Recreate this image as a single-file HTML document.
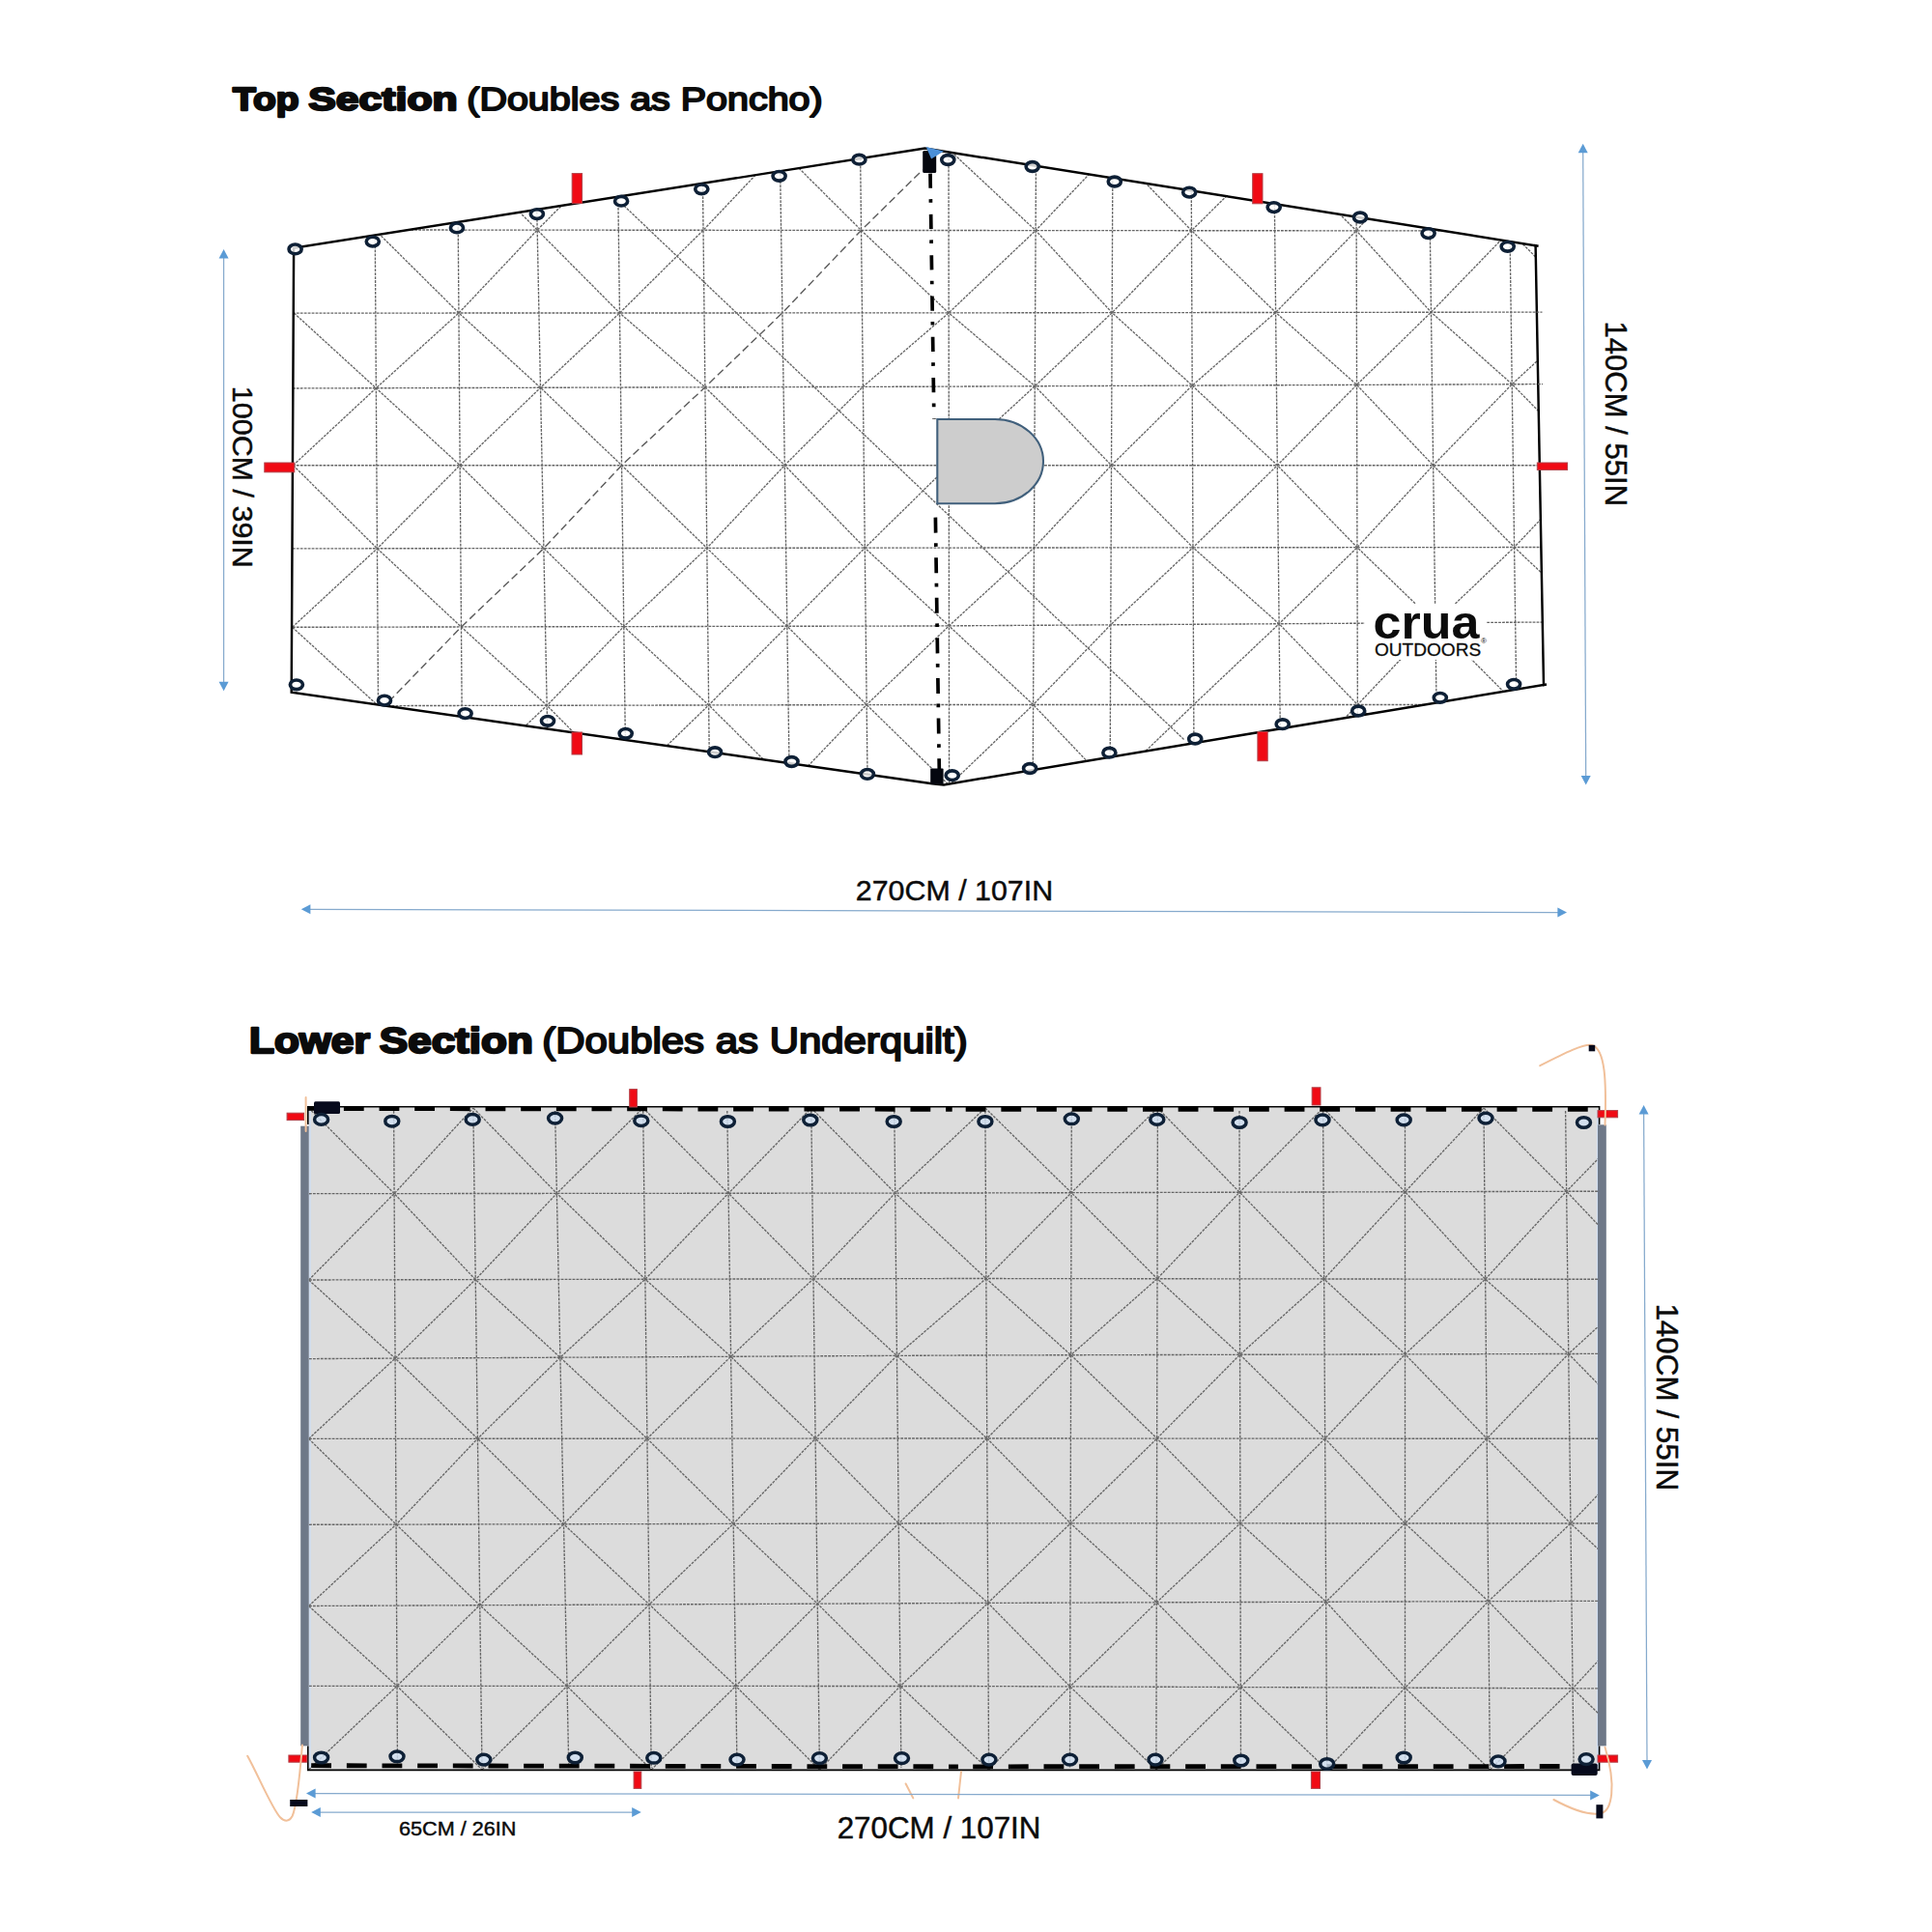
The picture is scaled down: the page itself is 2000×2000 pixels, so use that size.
<!DOCTYPE html>
<html lang="en">
<head>
<meta charset="utf-8">
<title>Top Section / Lower Section dimensions</title>
<style>
html,body{margin:0;padding:0;background:#fff;}
body{width:2000px;height:2000px;overflow:hidden;}
svg{display:block;}
text{font-family:"Liberation Sans",sans-serif;fill:#0b0b0b;}
</style>
</head>
<body>
<svg width="2000" height="2000" viewBox="0 0 2000 2000">
<rect x="0" y="0" width="2000" height="2000" fill="#ffffff"/>

<defs><clipPath id="ctop"><polygon points="304.1,256.7 957.4,153.5 1589.6,254.2 1598,709 977,812.4 965,811.2 301.7,716.8"/></clipPath>
<clipPath id="clow"><rect x="319.6" y="1147" width="1335.6" height="685"/></clipPath></defs>
<g clip-path="url(#ctop)">
<g stroke="#666666" stroke-width="1.35" stroke-dasharray="2.8 1.15" fill="none">
<line x1="387.6" y1="140" x2="392.2" y2="830"/>
<line x1="473.5" y1="140" x2="478.9" y2="830"/>
<line x1="554.2" y1="140" x2="568.2" y2="830"/>
<line x1="639" y1="140" x2="648.2" y2="830"/>
<line x1="726.9" y1="140" x2="734.8" y2="830"/>
<line x1="807.1" y1="140" x2="817.6" y2="830"/>
<line x1="890.4" y1="140" x2="898.3" y2="830"/>
<line x1="982" y1="140" x2="982.6" y2="830"/>
<line x1="1072.6" y1="140" x2="1069.1" y2="830"/>
<line x1="1152" y1="140" x2="1149" y2="830"/>
<line x1="1233" y1="140" x2="1236.2" y2="830"/>
<line x1="1318.6" y1="140" x2="1326.1" y2="830"/>
<line x1="1403.9" y1="140" x2="1405.6" y2="830"/>
<line x1="1479" y1="140" x2="1488.4" y2="830"/>
<line x1="1561.6" y1="140" x2="1571.3" y2="830"/>
<polyline points="295,237.9 960,238.5 1605,239"/>
<polyline points="295,324.1 960,323.9 1605,323.1"/>
<polyline points="295,402 960,400.2 1605,397.6"/>
<polyline points="295,481.7 960,481.7 1605,481.7"/>
<polyline points="295,567.9 960,567.1 1605,566.5"/>
<polyline points="295,649.3 960,648 1605,644"/>
<polyline points="295,730.8 960,729.5 1605,729.5"/>
<polyline points="305.4,154.5 388.3,238 475,324 559.5,401.3 643.6,481.7 731.8,567.4 814.8,648.3 897.1,729.6 982.6,813"/>
<polyline points="473.6,154.5 556.2,238.1 641.5,324 729.9,400.8 812.3,481.7 895.3,567.2 982.4,647.9 1069.6,729.5 1149.1,813"/>
<line x1="646" y1="213" x2="1226.4" y2="766.3"/>
<polyline points="807.4,154.5 891.5,238.4 982.1,323.9 1071.3,399.7 1150.5,481.7 1235,566.8 1324.1,645.8 1405.4,729.5 1488.1,813"/>
<polyline points="982,154.5 1072.1,238.6 1151.2,323.7 1234.2,399.1 1322.3,481.7 1405,566.7 1485.8,644.8 1569.9,729.5 1651.6,813"/>
<polyline points="1152,154.5 1233.5,238.7 1320.6,323.4 1404.5,398.4 1483.6,481.7 1567.6,566.5 1649.7,643.8"/>
<polyline points="1318.8,154.5 1404.1,238.8 1481.5,323.2 1565.3,397.7 1647.8,481.7"/>
<polyline points="1479.2,154.5 1563,239 1646,323"/>
<polyline points="304.4,324.1 389.3,401.8 476.2,481.7 562.9,567.6 645.8,648.6 733.7,729.9 817.3,813"/>
<polyline points="303.5,481.7 390.5,567.8 477.5,649 566.2,730.3 648,813"/>
<polyline points="302.6,649.3 391.5,730.6 478.8,813"/>
<polyline points="478.8,813 566.2,730.3 645.8,648.6 731.8,567.4 812.3,481.7 893.3,400.4 982.1,323.9 1072.1,238.6 1152,154.5"/>
<polyline points="648,813 733.7,729.9 814.8,648.3 895.3,567.2 982.3,481.7 1071.3,399.7 1151.2,323.7 1233.5,238.7 1318.8,154.5"/>
<polyline points="817.3,813 897.1,729.6 982.4,647.9 1070.4,567 1150.5,481.7 1234.2,399.1 1320.6,323.4 1404.1,238.8 1479.2,154.5"/>
<polyline points="982.6,813 1069.6,729.5 1149.8,646.8 1235,566.8 1322.3,481.7 1404.5,398.4 1481.5,323.2 1563,239 1644.1,154.5"/>
<polyline points="1149.1,813 1235.7,729.5 1324.1,645.8 1405,566.7 1483.6,481.7 1565.3,397.7 1646,323"/>
<polyline points="1325.9,813 1405.4,729.5 1485.8,644.8 1567.6,566.5 1647.8,481.7"/>
<polyline points="303.5,481.7 389.3,401.8 475,324 556.2,238.1 639.2,154.5"/>
<polyline points="302.6,649.3 390.5,567.8 476.2,481.7 559.5,401.3 641.5,324 728,238.3 807.4,154.5"/>
</g>
<g stroke="#5c5c5c" stroke-width="1.4" stroke-dasharray="8 4" fill="none">
<polyline points="394,735 477.5,649 562.9,567.6 643.6,481.7 729.9,400.8 809.9,323.9 891.5,238.4 955,176"/>
</g>
</g>
<rect x="1413" y="625" width="126" height="58" fill="#ffffff"/>
<text x="1421.6" y="660.5" font-size="48.3" font-weight="bold" textLength="109.8" lengthAdjust="spacingAndGlyphs" fill="#000">crua</text>
<text x="1423" y="678.7" font-size="19" font-weight="normal" textLength="110.2" lengthAdjust="spacingAndGlyphs" fill="#111" stroke="#111" stroke-width="0.3">OUTDOORS</text>
<text x="1533" y="666.4" font-size="8" font-weight="normal" >&#174;</text>
<polygon points="304.1,256.7 957.4,153.5 1589.6,254.2 1598,709 977,812.4 965,811.2 301.7,716.8" fill="none" stroke="#000" stroke-width="2.45" stroke-linejoin="miter"/>
<line x1="1597" y1="709.2" x2="1601" y2="708.5" stroke="#000" stroke-width="2.45"/>
<line x1="1588" y1="253.95" x2="1592.6" y2="254.7" stroke="#000" stroke-width="2.45"/>
<path d="M1590.5 323.1 H1596.5 M1592 397.6 H1597" stroke="#666666" stroke-width="1.35" stroke-dasharray="2.8 1.15" fill="none"/>
<line x1="963" y1="179.6" x2="966.9" y2="434" stroke="#000" stroke-width="3.7" stroke-dasharray="15.2 11.3 3.6 12.2"/>
<line x1="968.4" y1="535.6" x2="972.3" y2="796" stroke="#000" stroke-width="3.7" stroke-dasharray="16 10.6 3.7 11.3"/>
<path d="M970.3 434 L1030 434 A50 43.6 0 0 1 1030 521.2 L970.3 521.2 Z" fill="#cdcdcd" stroke="#41607c" stroke-width="2.1"/>
<rect x="955.2" y="156" width="14" height="23" rx="1.5" fill="#05070f"/>
<polygon points="958.6,152 977,156.4 964.1,164.6" fill="#4a8fd8"/>
<rect x="963.2" y="795.5" width="13.4" height="16.6" rx="1" fill="#05070f"/>
<rect x="592.2" y="179.6" width="10.4" height="31" fill="#f00a14" stroke="#b24048" stroke-width="1"/>
<rect x="1296.7" y="179.7" width="10.3" height="31.1" fill="#f00a14" stroke="#b24048" stroke-width="1"/>
<rect x="592" y="758" width="10.5" height="23" fill="#f00a14" stroke="#b24048" stroke-width="1"/>
<rect x="1301.9" y="757.5" width="10.3" height="30.2" fill="#f00a14" stroke="#b24048" stroke-width="1"/>
<rect x="273.8" y="479" width="31" height="9.8" fill="#f00a14" stroke="#b24048" stroke-width="1"/>
<rect x="1591.3" y="479" width="31.3" height="7.4" fill="#f00a14" stroke="#b24048" stroke-width="1"/>
<ellipse cx="305.6" cy="257.9" rx="6.55" ry="4.85" fill="#ffffff" fill-opacity="0.8" stroke="#0e2036" stroke-width="3.6"/>
<ellipse cx="385.8" cy="250.1" rx="6.55" ry="4.85" fill="#ffffff" fill-opacity="0.8" stroke="#0e2036" stroke-width="3.6"/>
<ellipse cx="473" cy="235.9" rx="6.55" ry="4.85" fill="#ffffff" fill-opacity="0.8" stroke="#0e2036" stroke-width="3.6"/>
<ellipse cx="555.9" cy="221.6" rx="6.55" ry="4.85" fill="#ffffff" fill-opacity="0.8" stroke="#0e2036" stroke-width="3.6"/>
<ellipse cx="643.1" cy="208.2" rx="6.55" ry="4.85" fill="#ffffff" fill-opacity="0.8" stroke="#0e2036" stroke-width="3.6"/>
<ellipse cx="726.3" cy="195.8" rx="6.55" ry="4.85" fill="#ffffff" fill-opacity="0.8" stroke="#0e2036" stroke-width="3.6"/>
<ellipse cx="806.6" cy="182.3" rx="6.55" ry="4.85" fill="#ffffff" fill-opacity="0.8" stroke="#0e2036" stroke-width="3.6"/>
<ellipse cx="889.4" cy="165.2" rx="6.55" ry="4.85" fill="#ffffff" fill-opacity="0.8" stroke="#0e2036" stroke-width="3.6"/>
<ellipse cx="981.3" cy="165.5" rx="6.55" ry="4.85" fill="#ffffff" fill-opacity="0.8" stroke="#0e2036" stroke-width="3.6"/>
<ellipse cx="1068.7" cy="172.5" rx="6.55" ry="4.85" fill="#ffffff" fill-opacity="0.8" stroke="#0e2036" stroke-width="3.6"/>
<ellipse cx="1153.8" cy="188" rx="6.55" ry="4.85" fill="#ffffff" fill-opacity="0.8" stroke="#0e2036" stroke-width="3.6"/>
<ellipse cx="1231.2" cy="199.1" rx="6.55" ry="4.85" fill="#ffffff" fill-opacity="0.8" stroke="#0e2036" stroke-width="3.6"/>
<ellipse cx="1318.7" cy="214.6" rx="6.55" ry="4.85" fill="#ffffff" fill-opacity="0.8" stroke="#0e2036" stroke-width="3.6"/>
<ellipse cx="1408" cy="225" rx="6.55" ry="4.85" fill="#ffffff" fill-opacity="0.8" stroke="#0e2036" stroke-width="3.6"/>
<ellipse cx="1478.6" cy="241.6" rx="6.55" ry="4.85" fill="#ffffff" fill-opacity="0.8" stroke="#0e2036" stroke-width="3.6"/>
<ellipse cx="1560.7" cy="255.3" rx="6.55" ry="4.85" fill="#ffffff" fill-opacity="0.8" stroke="#0e2036" stroke-width="3.6"/>
<ellipse cx="306.9" cy="708.8" rx="6.55" ry="4.85" fill="#ffffff" fill-opacity="0.8" stroke="#0e2036" stroke-width="3.6"/>
<ellipse cx="398" cy="725.1" rx="6.55" ry="4.85" fill="#ffffff" fill-opacity="0.8" stroke="#0e2036" stroke-width="3.6"/>
<ellipse cx="481.6" cy="738.6" rx="6.55" ry="4.85" fill="#ffffff" fill-opacity="0.8" stroke="#0e2036" stroke-width="3.6"/>
<ellipse cx="567" cy="746.3" rx="6.55" ry="4.85" fill="#ffffff" fill-opacity="0.8" stroke="#0e2036" stroke-width="3.6"/>
<ellipse cx="647.7" cy="759.3" rx="6.55" ry="4.85" fill="#ffffff" fill-opacity="0.8" stroke="#0e2036" stroke-width="3.6"/>
<ellipse cx="740.1" cy="778.7" rx="6.55" ry="4.85" fill="#ffffff" fill-opacity="0.8" stroke="#0e2036" stroke-width="3.6"/>
<ellipse cx="819.5" cy="788.5" rx="6.55" ry="4.85" fill="#ffffff" fill-opacity="0.8" stroke="#0e2036" stroke-width="3.6"/>
<ellipse cx="897.9" cy="801.4" rx="6.55" ry="4.85" fill="#ffffff" fill-opacity="0.8" stroke="#0e2036" stroke-width="3.6"/>
<ellipse cx="985.7" cy="802.7" rx="6.55" ry="4.85" fill="#ffffff" fill-opacity="0.8" stroke="#0e2036" stroke-width="3.6"/>
<ellipse cx="1066.1" cy="795.5" rx="6.55" ry="4.85" fill="#ffffff" fill-opacity="0.8" stroke="#0e2036" stroke-width="3.6"/>
<ellipse cx="1148.4" cy="779.2" rx="6.55" ry="4.85" fill="#ffffff" fill-opacity="0.8" stroke="#0e2036" stroke-width="3.6"/>
<ellipse cx="1237.2" cy="765" rx="6.55" ry="4.85" fill="#ffffff" fill-opacity="0.8" stroke="#0e2036" stroke-width="3.6"/>
<ellipse cx="1327.7" cy="749.7" rx="6.55" ry="4.85" fill="#ffffff" fill-opacity="0.8" stroke="#0e2036" stroke-width="3.6"/>
<ellipse cx="1406.2" cy="736" rx="6.55" ry="4.85" fill="#ffffff" fill-opacity="0.8" stroke="#0e2036" stroke-width="3.6"/>
<ellipse cx="1490.8" cy="722.3" rx="6.55" ry="4.85" fill="#ffffff" fill-opacity="0.8" stroke="#0e2036" stroke-width="3.6"/>
<ellipse cx="1567.1" cy="708.3" rx="6.55" ry="4.85" fill="#ffffff" fill-opacity="0.8" stroke="#0e2036" stroke-width="3.6"/>
<line x1="231.6" y1="265.6" x2="231.6" y2="707.6" stroke="#86aacd" stroke-width="1.25"/>
<polygon points="231.6,257.9 226.6,267.5 236.6,267.5" fill="#5b9bd5"/>
<polygon points="231.6,715.3 226.6,705.7 236.6,705.7" fill="#5b9bd5"/>
<line x1="1638.7" y1="156.4" x2="1641.7" y2="804.9" stroke="#86aacd" stroke-width="1.25"/>
<polygon points="1638.7,148.7 1633.7,158.3 1643.7,158.3" fill="#5b9bd5"/>
<polygon points="1641.7,812.6 1636.7,803 1646.7,803" fill="#5b9bd5"/>
<line x1="319.5" y1="941.3" x2="1614.3" y2="944.5" stroke="#86aacd" stroke-width="1.25"/>
<polygon points="311.8,941.3 321.4,946.3 321.4,936.3" fill="#5b9bd5"/>
<polygon points="1622,944.5 1612.4,949.5 1612.4,939.5" fill="#5b9bd5"/>
<text x="241" y="113.6" font-size="34" font-weight="bold" textLength="68.5" lengthAdjust="spacingAndGlyphs" stroke="#0b0b0b" stroke-width="2.3" stroke-linejoin="round">Top</text>
<text x="319.2" y="113.6" font-size="34" font-weight="bold" textLength="154.5" lengthAdjust="spacingAndGlyphs" stroke="#0b0b0b" stroke-width="2.3" stroke-linejoin="round">Section</text>
<text x="483.3" y="113.8" font-size="33.7" font-weight="normal" textLength="368.4" lengthAdjust="spacingAndGlyphs" stroke="#0b0b0b" stroke-width="1.9" stroke-linejoin="round">(Doubles as Poncho)</text>
<text x="0" y="0" transform="translate(241 399.8) rotate(90)" font-size="29.6" font-weight="normal" textLength="188" lengthAdjust="spacingAndGlyphs" stroke="#0b0b0b" stroke-width="0.45">100CM / 39IN</text>
<text x="0" y="0" transform="translate(1662.4 332.5) rotate(90)" font-size="32.2" font-weight="normal" textLength="191.6" lengthAdjust="spacingAndGlyphs" stroke="#0b0b0b" stroke-width="0.45">140CM / 55IN</text>
<text x="885.8" y="932.3" font-size="30.2" font-weight="normal" textLength="204.3" lengthAdjust="spacingAndGlyphs" stroke="#0b0b0b" stroke-width="0.45">270CM / 107IN</text>
<rect x="319.6" y="1146.5" width="1335.6" height="686" fill="#dcdcdc"/>
<rect x="319.6" y="1150" width="2.2" height="680" fill="#cfdcee"/>
<rect x="1652.8" y="1150" width="2.2" height="680" fill="#cfdcee"/>
<g clip-path="url(#clow)">
<g stroke="#666666" stroke-width="1.35" stroke-dasharray="2.8 1.15" fill="none">
<line x1="407.6" y1="1150" x2="411.5" y2="1830"/>
<line x1="489.9" y1="1150" x2="499" y2="1830"/>
<line x1="574.6" y1="1150" x2="588.8" y2="1830"/>
<line x1="665.7" y1="1150" x2="674.2" y2="1830"/>
<line x1="752.8" y1="1150" x2="763" y2="1830"/>
<line x1="839.8" y1="1150" x2="848.4" y2="1830"/>
<line x1="925.8" y1="1150" x2="932.9" y2="1830"/>
<line x1="1019.9" y1="1150" x2="1023.6" y2="1830"/>
<line x1="1109.3" y1="1150" x2="1107.5" y2="1830"/>
<line x1="1198.4" y1="1150" x2="1196.9" y2="1830"/>
<line x1="1283" y1="1150" x2="1284.5" y2="1830"/>
<line x1="1369.6" y1="1150" x2="1373.7" y2="1830"/>
<line x1="1454.5" y1="1150" x2="1454.5" y2="1830"/>
<line x1="1536" y1="1150" x2="1542.4" y2="1830"/>
<line x1="1620.6" y1="1150" x2="1629.1" y2="1830"/>
<polyline points="320,1235.7 1000,1235 1655,1233.2"/>
<polyline points="320,1325 1000,1323.5 1655,1324.3"/>
<polyline points="320,1406.6 1000,1403 1655,1401.4"/>
<polyline points="320,1489.4 1000,1489 1655,1489.3"/>
<polyline points="320,1578.3 1000,1576.9 1655,1577"/>
<polyline points="320,1662.5 1000,1659.5 1655,1657.3"/>
<polyline points="320,1745.3 1000,1745.5 1655,1747.9"/>
<polyline points="319.6,1147 408.1,1235.6 492.2,1324.6 579.9,1405.2 669.9,1489.2 759.2,1577.4 846.3,1660.2 932,1745.5 1023.6,1832"/>
<polyline points="489.9,1147 576.4,1235.4 667.9,1324.2 756.6,1404.3 844.1,1489.1 930.3,1577 1022.7,1659.4 1107.7,1745.9 1196.9,1832"/>
<polyline points="665.7,1147 754.1,1235.3 842,1323.8 928.4,1403.4 1021.7,1489 1108.2,1576.9 1197.3,1658.8 1284.3,1746.5 1373.7,1832"/>
<polyline points="839.8,1147 926.7,1235.1 1020.8,1323.5 1108.6,1402.7 1197.7,1489.1 1283.9,1576.9 1372.7,1658.2 1454.5,1747.2 1542.4,1832"/>
<polyline points="1019.9,1147 1109.1,1234.7 1198,1323.7 1283.6,1402.3 1371.6,1489.2 1454.5,1577 1540.8,1657.7 1628.1,1747.8 1714.1,1832"/>
<polyline points="1198.4,1147 1283.2,1234.2 1370.6,1324 1454.5,1401.9 1539.2,1489.2 1625.9,1577 1711.9,1657.1"/>
<polyline points="1369.6,1147 1454.5,1233.8 1537.6,1324.2 1623.7,1401.5 1709.8,1489.3"/>
<polyline points="1536,1147 1621.6,1233.3 1707.8,1324.4"/>
<polyline points="319.6,1325 409.1,1406.1 494.4,1489.3 583.5,1577.8 672.1,1660.9 761.7,1745.4 848.4,1832"/>
<polyline points="319.6,1489.4 410.1,1578.1 496.7,1661.7 587,1745.4 674.2,1832"/>
<polyline points="319.6,1662.5 411,1745.3 499,1832"/>
<polyline points="319.6,1832 411,1745.3 496.7,1661.7 583.5,1577.8 669.9,1489.2 756.6,1404.3 842,1323.8 926.7,1235.1 1019.9,1147"/>
<polyline points="499,1832 587,1745.4 672.1,1660.9 759.2,1577.4 844.1,1489.1 928.4,1403.4 1020.8,1323.5 1109.1,1234.7 1198.4,1147"/>
<polyline points="674.2,1832 761.7,1745.4 846.3,1660.2 930.3,1577 1021.7,1489 1108.6,1402.7 1198,1323.7 1283.2,1234.2 1369.6,1147"/>
<polyline points="848.4,1832 932,1745.5 1022.7,1659.4 1108.2,1576.9 1197.7,1489.1 1283.6,1402.3 1370.6,1324 1454.5,1233.8 1536,1147"/>
<polyline points="1023.6,1832 1107.7,1745.9 1197.3,1658.8 1283.9,1576.9 1371.6,1489.2 1454.5,1401.9 1537.6,1324.2 1621.6,1233.3 1705.6,1147"/>
<polyline points="1196.9,1832 1284.3,1746.5 1372.7,1658.2 1454.5,1577 1539.2,1489.2 1623.7,1401.5 1707.8,1324.4"/>
<polyline points="1373.7,1832 1454.5,1747.2 1540.8,1657.7 1625.9,1577 1709.8,1489.3"/>
<polyline points="1542.4,1832 1628.1,1747.8 1711.9,1657.1"/>
<polyline points="319.6,1325 408.1,1235.6 489.9,1147"/>
<polyline points="319.6,1489.4 409.1,1406.1 492.2,1324.6 576.4,1235.4 665.7,1147"/>
<polyline points="319.6,1662.5 410.1,1578.1 494.4,1489.3 579.9,1405.2 667.9,1324.2 754.1,1235.3 839.8,1147"/>
</g></g>
<rect x="311.2" y="1165.7" width="8.5" height="641.7" fill="#6e7888"/>
<rect x="1654" y="1164.3" width="8.8" height="643.1" fill="#6e7888"/>
<path d="M318.8 1164 L318.8 1145.7 L1655.6 1145.7 L1655.6 1164" fill="none" stroke="#000" stroke-width="1.6"/>
<path d="M318.8 1807.5 L318.8 1832.4 L1655.6 1832.4 L1655.6 1807.5" fill="none" stroke="#000" stroke-width="1.6"/>
<g stroke="#000" stroke-width="4.8" stroke-dasharray="20.8 15.86" fill="none">
<line x1="355.9" y1="1147.6" x2="985.7" y2="1148.3"/>
<line x1="999.7" y1="1148.3" x2="1645" y2="1148.3"/>
<line x1="322.2" y1="1827.7" x2="991.9" y2="1828.8"/>
<line x1="1007.2" y1="1828.8" x2="1620" y2="1828.5"/>
</g>
<rect x="318" y="1145" width="8" height="4.8" fill="#000"/>
<rect x="325" y="1140.3" width="27" height="12.6" rx="1.5" fill="#070a1c"/>
<rect x="1626.6" y="1825.5" width="27.1" height="12.4" rx="2" fill="#070a1c"/>
<rect x="651.7" y="1127.6" width="7.7" height="18.4" fill="#f00a14" stroke="#b24048" stroke-width="1"/>
<rect x="1358.2" y="1125.8" width="8.8" height="18.2" fill="#f00a14" stroke="#b24048" stroke-width="1"/>
<rect x="297.1" y="1152.2" width="17.5" height="7.4" fill="#f00a14" stroke="#b24048" stroke-width="1"/>
<rect x="1654" y="1149.6" width="20.6" height="7.2" fill="#f00a14" stroke="#b24048" stroke-width="1"/>
<rect x="298.9" y="1817" width="18.9" height="7.2" fill="#f00a14" stroke="#b24048" stroke-width="1"/>
<rect x="1654" y="1817" width="20.6" height="7.2" fill="#f00a14" stroke="#b24048" stroke-width="1"/>
<rect x="656.1" y="1834" width="7.7" height="17.4" fill="#f00a14" stroke="#b24048" stroke-width="1"/>
<rect x="1357.4" y="1834" width="9.1" height="17.4" fill="#f00a14" stroke="#b24048" stroke-width="1"/>
<path d="M316.6 1136 L316.6 1171" fill="none" stroke="#f1c09a" stroke-width="2.0" stroke-linecap="round"/>
<path d="M1594.2 1103.2 C1620 1090 1640 1080 1648 1082 C1662 1086 1663 1120 1661.5 1164.6" fill="none" stroke="#f1c09a" stroke-width="2.0" stroke-linecap="round"/>
<path d="M256.2 1817.7 C266 1835 282 1873 290 1881.2 C294 1885.4 299 1886.6 302.6 1880 C308 1868 311 1830 312.9 1806.6" fill="none" stroke="#f1c09a" stroke-width="2.0" stroke-linecap="round"/>
<path d="M1608.4 1863 C1625 1872 1645 1880 1658 1877 C1668 1874 1674 1850 1661.5 1808.7" fill="none" stroke="#f1c09a" stroke-width="2.0" stroke-linecap="round"/>
<path d="M937.6 1846.5 L945.3 1861.4 M995 1834 L992 1861.4" fill="none" stroke="#f1c09a" stroke-width="2.0" stroke-linecap="round"/>
<rect x="1644.7" y="1081.8" width="6.5" height="6.5" fill="#070a1c"/>
<rect x="300.2" y="1863" width="18.2" height="7" fill="#070a1c"/>
<rect x="1652.4" y="1868.2" width="7" height="14.2" fill="#070a1c"/>
<ellipse cx="332.6" cy="1158.9" rx="7.0" ry="5.3" fill="#cfe0f3" fill-opacity="0.8" stroke="#0e2036" stroke-width="3.5"/>
<ellipse cx="405.8" cy="1160.7" rx="7.0" ry="5.3" fill="#cfe0f3" fill-opacity="0.8" stroke="#0e2036" stroke-width="3.5"/>
<ellipse cx="489.2" cy="1158.9" rx="7.0" ry="5.3" fill="#cfe0f3" fill-opacity="0.8" stroke="#0e2036" stroke-width="3.5"/>
<ellipse cx="574.6" cy="1157.6" rx="7.0" ry="5.3" fill="#cfe0f3" fill-opacity="0.8" stroke="#0e2036" stroke-width="3.5"/>
<ellipse cx="663.8" cy="1160.2" rx="7.0" ry="5.3" fill="#cfe0f3" fill-opacity="0.8" stroke="#0e2036" stroke-width="3.5"/>
<ellipse cx="753.4" cy="1161" rx="7.0" ry="5.3" fill="#cfe0f3" fill-opacity="0.8" stroke="#0e2036" stroke-width="3.5"/>
<ellipse cx="838.8" cy="1159.5" rx="7.0" ry="5.3" fill="#cfe0f3" fill-opacity="0.8" stroke="#0e2036" stroke-width="3.5"/>
<ellipse cx="925.2" cy="1161" rx="7.0" ry="5.3" fill="#cfe0f3" fill-opacity="0.8" stroke="#0e2036" stroke-width="3.5"/>
<ellipse cx="1019.9" cy="1161" rx="7.0" ry="5.3" fill="#cfe0f3" fill-opacity="0.8" stroke="#0e2036" stroke-width="3.5"/>
<ellipse cx="1109.3" cy="1158.3" rx="7.0" ry="5.3" fill="#cfe0f3" fill-opacity="0.8" stroke="#0e2036" stroke-width="3.5"/>
<ellipse cx="1197.8" cy="1158.9" rx="7.0" ry="5.3" fill="#cfe0f3" fill-opacity="0.8" stroke="#0e2036" stroke-width="3.5"/>
<ellipse cx="1283.1" cy="1162" rx="7.0" ry="5.3" fill="#cfe0f3" fill-opacity="0.8" stroke="#0e2036" stroke-width="3.5"/>
<ellipse cx="1369" cy="1159.4" rx="7.0" ry="5.3" fill="#cfe0f3" fill-opacity="0.8" stroke="#0e2036" stroke-width="3.5"/>
<ellipse cx="1453.2" cy="1159.4" rx="7.0" ry="5.3" fill="#cfe0f3" fill-opacity="0.8" stroke="#0e2036" stroke-width="3.5"/>
<ellipse cx="1538" cy="1157.6" rx="7.0" ry="5.3" fill="#cfe0f3" fill-opacity="0.8" stroke="#0e2036" stroke-width="3.5"/>
<ellipse cx="1639.5" cy="1162" rx="7.0" ry="5.3" fill="#cfe0f3" fill-opacity="0.8" stroke="#0e2036" stroke-width="3.5"/>
<ellipse cx="332.6" cy="1819.5" rx="7.0" ry="5.3" fill="#cfe0f3" fill-opacity="0.8" stroke="#0e2036" stroke-width="3.5"/>
<ellipse cx="411" cy="1818.3" rx="7.0" ry="5.3" fill="#cfe0f3" fill-opacity="0.8" stroke="#0e2036" stroke-width="3.5"/>
<ellipse cx="500.8" cy="1821.6" rx="7.0" ry="5.3" fill="#cfe0f3" fill-opacity="0.8" stroke="#0e2036" stroke-width="3.5"/>
<ellipse cx="595.3" cy="1819.5" rx="7.0" ry="5.3" fill="#cfe0f3" fill-opacity="0.8" stroke="#0e2036" stroke-width="3.5"/>
<ellipse cx="676.8" cy="1819.8" rx="7.0" ry="5.3" fill="#cfe0f3" fill-opacity="0.8" stroke="#0e2036" stroke-width="3.5"/>
<ellipse cx="763" cy="1821.6" rx="7.0" ry="5.3" fill="#cfe0f3" fill-opacity="0.8" stroke="#0e2036" stroke-width="3.5"/>
<ellipse cx="848.4" cy="1820.1" rx="7.0" ry="5.3" fill="#cfe0f3" fill-opacity="0.8" stroke="#0e2036" stroke-width="3.5"/>
<ellipse cx="933.5" cy="1820.1" rx="7.0" ry="5.3" fill="#cfe0f3" fill-opacity="0.8" stroke="#0e2036" stroke-width="3.5"/>
<ellipse cx="1023.9" cy="1821.6" rx="7.0" ry="5.3" fill="#cfe0f3" fill-opacity="0.8" stroke="#0e2036" stroke-width="3.5"/>
<ellipse cx="1107.5" cy="1821.6" rx="7.0" ry="5.3" fill="#cfe0f3" fill-opacity="0.8" stroke="#0e2036" stroke-width="3.5"/>
<ellipse cx="1196" cy="1821.6" rx="7.0" ry="5.3" fill="#cfe0f3" fill-opacity="0.8" stroke="#0e2036" stroke-width="3.5"/>
<ellipse cx="1284.8" cy="1822.5" rx="7.0" ry="5.3" fill="#cfe0f3" fill-opacity="0.8" stroke="#0e2036" stroke-width="3.5"/>
<ellipse cx="1373.7" cy="1826" rx="7.0" ry="5.3" fill="#cfe0f3" fill-opacity="0.8" stroke="#0e2036" stroke-width="3.5"/>
<ellipse cx="1453.2" cy="1819.5" rx="7.0" ry="5.3" fill="#cfe0f3" fill-opacity="0.8" stroke="#0e2036" stroke-width="3.5"/>
<ellipse cx="1551" cy="1823.4" rx="7.0" ry="5.3" fill="#cfe0f3" fill-opacity="0.8" stroke="#0e2036" stroke-width="3.5"/>
<ellipse cx="1642.1" cy="1821.1" rx="7.0" ry="5.3" fill="#cfe0f3" fill-opacity="0.8" stroke="#0e2036" stroke-width="3.5"/>
<line x1="1701.6" y1="1151.6" x2="1705" y2="1823.8" stroke="#86aacd" stroke-width="1.25"/>
<polygon points="1701.6,1143.9 1696.6,1153.5 1706.6,1153.5" fill="#5b9bd5"/>
<polygon points="1705,1831.5 1700,1821.9 1710,1821.9" fill="#5b9bd5"/>
<line x1="324.7" y1="1856.6" x2="1648.1" y2="1858.4" stroke="#86aacd" stroke-width="1.25"/>
<polygon points="317,1856.6 326.6,1861.6 326.6,1851.6" fill="#5b9bd5"/>
<polygon points="1655.8,1858.4 1646.2,1863.4 1646.2,1853.4" fill="#5b9bd5"/>
<line x1="329.9" y1="1876" x2="656.1" y2="1876" stroke="#86aacd" stroke-width="1.25"/>
<polygon points="322.2,1876 331.8,1881 331.8,1871" fill="#5b9bd5"/>
<polygon points="663.8,1876 654.2,1881 654.2,1871" fill="#5b9bd5"/>
<text x="258" y="1089.7" font-size="36.5" font-weight="bold" textLength="125" lengthAdjust="spacingAndGlyphs" stroke="#0b0b0b" stroke-width="2.3" stroke-linejoin="round">Lower</text>
<text x="392.8" y="1089.7" font-size="36.5" font-weight="bold" textLength="159" lengthAdjust="spacingAndGlyphs" stroke="#0b0b0b" stroke-width="2.3" stroke-linejoin="round">Section</text>
<text x="561.3" y="1089.9" font-size="36.3" font-weight="normal" textLength="440.4" lengthAdjust="spacingAndGlyphs" stroke="#0b0b0b" stroke-width="1.9" stroke-linejoin="round">(Doubles as Underquilt)</text>
<text x="0" y="0" transform="translate(1714.5 1349.4) rotate(90)" font-size="31.3" font-weight="normal" textLength="193.8" lengthAdjust="spacingAndGlyphs" stroke="#0b0b0b" stroke-width="0.45">140CM / 55IN</text>
<text x="413" y="1899.5" font-size="20.5" font-weight="normal" textLength="121.4" lengthAdjust="spacingAndGlyphs" stroke="#0b0b0b" stroke-width="0.45">65CM / 26IN</text>
<text x="866.7" y="1903.4" font-size="31.3" font-weight="normal" textLength="210.7" lengthAdjust="spacingAndGlyphs" stroke="#0b0b0b" stroke-width="0.45">270CM / 107IN</text>
</svg>
</body>
</html>
